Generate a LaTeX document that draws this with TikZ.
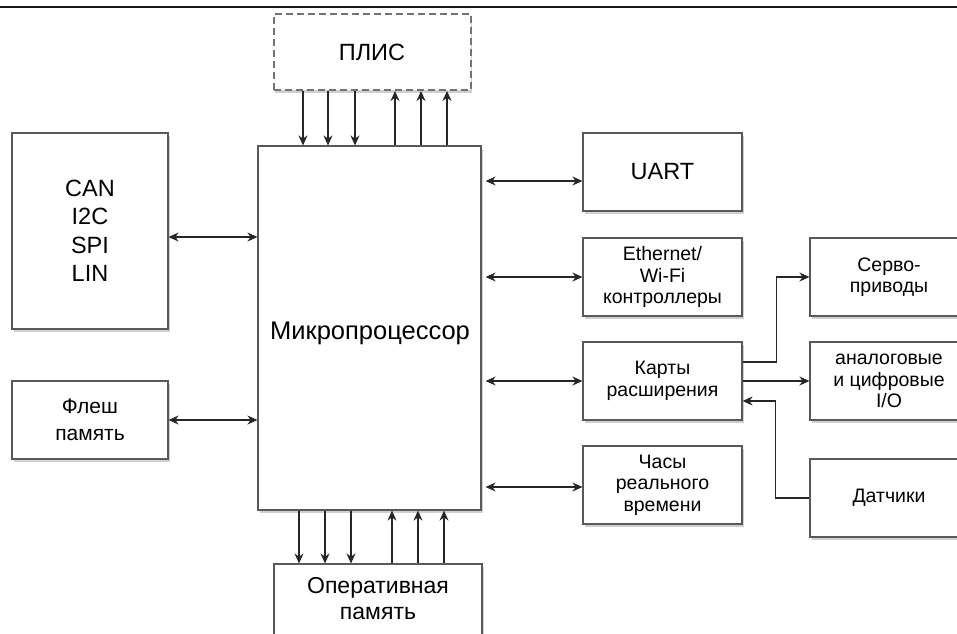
\documentclass[tikz,border=0pt]{standalone}
\usepackage{fontspec}
\setmainfont{Liberation Sans}
\usetikzlibrary{arrows.meta,shadows,calc}
\tikzset{
  box/.style={draw=black!65, line width=1.2pt, fill=white, inner sep=0pt, align=center,
    drop shadow={shadow xshift=1.5pt, shadow yshift=-2.5pt, opacity=0.3, fill=black!60}},
  dashbox/.style={box, draw=black!55, line width=2pt, dash pattern=on 7pt off 4pt},
  lbl/.style={inner sep=0pt, align=center},
  arr/.style={draw=black!85, line width=1.3pt, -{Stealth[length=10pt,width=9pt]}},
  dbl/.style={draw=black!85, line width=1.3pt, {Stealth[length=10pt,width=9pt]}-{Stealth[length=10pt,width=9pt]}},
  big/.style={font=\fontsize{23.5}{28.5}\selectfont},
  mid/.style={font=\fontsize{21}{27}\selectfont},
  small/.style={font=\fontsize{19.5}{21.5}\selectfont}
}
\begin{document}
\begin{tikzpicture}[x=1pt,y=-1pt]
\useasboundingbox (0,0) rectangle (957,633);
\clip (0,0) rectangle (957,633);
\fill[white] (0,0) rectangle (957,633);
\draw[line width=2pt, black!90] (0,7) -- (957,7);

% boxes
\node[dashbox, big, minimum width=197pt, minimum height=76pt] (plis) at (372,52) {ПЛИС};
\node[box, minimum width=223pt, minimum height=364pt] (mcu) at (369.5,328) {};
\node[lbl, font=\fontsize{25.5}{30}\selectfont] (mcutxt) at (370,333) {Микропроцессор};
\node[box, minimum width=208pt, minimum height=100pt] (ram) at (378,614) {};
\node[lbl, font=\fontsize{23}{26}\selectfont] (ramtxt) at (378,599) {Оперативная\\память};

\node[box, big, minimum width=156pt, minimum height=196pt] (can) at (90,231) {CAN\\I2C\\SPI\\LIN};
\node[box, mid, minimum width=156pt, minimum height=78pt] (flash) at (90,420) {Флеш\\память};

\node[box, big, minimum width=159pt, minimum height=78pt] (uart) at (662.5,172) {UART};
\node[box, small, minimum width=159pt, minimum height=78pt] (eth) at (662.5,277) {Ethernet/\\Wi-Fi\\контроллеры};
\node[box, small, minimum width=159pt, minimum height=78pt] (cards) at (662.5,381) {Карты\\расширения};
\node[box, small, minimum width=159pt, minimum height=78pt] (rtc) at (662.5,485) {Часы\\реального\\времени};

\node[box, small, minimum width=158pt, minimum height=78pt] (servo) at (889,277) {Серво-\\приводы};
\node[box, small, minimum width=158pt, minimum height=78pt] (aio) at (889,381) {аналоговые\\и цифровые\\I/O};
\node[box, small, minimum width=158pt, minimum height=78pt] (sens) at (889,498) {Датчики};

% ПЛИС <-> МП
\foreach \dx [count=\i] in {-69,-44,-17} {
  \coordinate (pd\i) at ([xshift=\dx pt]plis.south);
  \draw[arr] (pd\i) -- (pd\i |- mcu.north);
}
\foreach \dx [count=\i] in {23,49,75} {
  \coordinate (pu\i) at ([xshift=\dx pt]plis.south);
  \draw[arr] (pu\i |- mcu.north) -- (pu\i);
}
% МП <-> ОЗУ
\foreach \dx [count=\i] in {-70.5,-44.5,-18.5} {
  \coordinate (rd\i) at ([xshift=\dx pt]mcu.south);
  \draw[arr] (rd\i) -- (rd\i |- ram.north);
}
\foreach \dx [count=\i] in {22.5,48.5,74.5} {
  \coordinate (ru\i) at ([xshift=\dx pt]mcu.south);
  \draw[arr] (ru\i |- ram.north) -- (ru\i);
}

% left
\coordinate (canp) at ([yshift=-6pt]can.east);
\draw[dbl] (canp) -- (canp -| mcu.west);
\draw[dbl] (flash.east) -- (flash.east -| mcu.west);

% right
\coordinate (uartp) at ([yshift=-9pt]uart.west);
\draw[dbl, shorten <=4pt] (uartp -| mcu.east) -- (uartp);
\draw[dbl, shorten <=4pt] (eth.west -| mcu.east) -- (eth.west);
\draw[dbl, shorten <=4pt] (cards.west -| mcu.east) -- (cards.west);
\coordinate (rtcp) at ([yshift=-2pt]rtc.west);
\draw[dbl, shorten <=4pt] (rtcp -| mcu.east) -- (rtcp);

% expansion cards
\coordinate (c1) at ([yshift=19pt]cards.east);
\coordinate (c3) at ([yshift=-20pt]cards.east);
\draw[arr] (c1) -- ++(34,0) |- (servo.west);
\draw[arr] (cards.east) -- (aio.west);
\draw[arr] (sens.west) -- ++(-34,0) |- (c3);
\end{tikzpicture}
\end{document}
